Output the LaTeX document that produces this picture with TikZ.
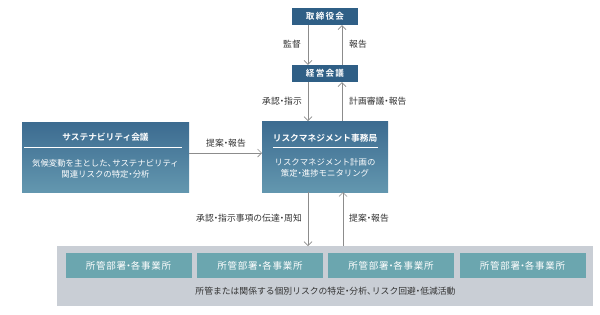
\documentclass[tikz,border=0pt]{standalone}
\usepackage{fontspec}
\setmainfont{Noto Sans CJK JP}[BoldFont={Noto Sans CJK JP Bold}]
\usetikzlibrary{arrows.meta}
\newcommand\nd{\makebox[0.5em]{・}}
\newcommand\nc{\makebox[0.55em][l]{、}}
\definecolor{navy}{HTML}{2F5F86}
\definecolor{btop}{HTML}{3C6B90}
\definecolor{bbot}{HTML}{6397AF}
\definecolor{panel}{HTML}{C9CED5}
\definecolor{tealbox}{HTML}{6BA6AF}
\definecolor{arr}{HTML}{8C8C8C}
\definecolor{txt}{HTML}{333333}
\begin{document}
\begin{tikzpicture}[x=1pt,y=-1pt,
  topbox/.style={fill=navy,text=white,font=\fontsize{8.6}{9}\selectfont\bfseries\addfontfeature{LetterSpace=14},minimum width=66pt,minimum height=17pt,inner sep=0pt},
  gradbox/.style={top color=btop,bottom color=bbot,draw=none},
  unitbox/.style={fill=tealbox,text=white,font=\fontsize{9.5}{10}\selectfont\addfontfeature{LetterSpace=8},minimum width=126pt,minimum height=25pt,inner sep=0pt},
  lbl/.style={text=txt,font=\fontsize{8.8}{9}\selectfont,inner sep=1pt},
  wt/.style={text=white,font=\fontsize{8.4}{11}\selectfont,align=center,inner sep=0pt},
  wtitle/.style={text=white,font=\fontsize{8.7}{9}\selectfont\bfseries,inner sep=0pt},
  conn/.style={draw=arr,line width=0.8pt,-{Straight Barb[length=4pt,width=8pt,line width=0.7pt]}}
]
\useasboundingbox (0,0) rectangle (600,314);
\fill[white] (0,0) rectangle (600,314);
% top boxes
\node[topbox] (board) at (325,16.5) {取締役会};
\node[topbox] (mgmt) at (325,73.5) {経営会議};
% sustainability box
\path[gradbox] (22,122) rectangle (189,192);
\node[wtitle] (sust) at (105.5,137) {サステナビリティ会議};
\draw[white,line width=0.6pt] (24,147) -- (182,147);
\node[wt] (susd) at (105.5,168.5) {気候変動を主とした\nc サステナビリティ\\関連リスクの特定\nd 分析};
% risk office box
\path[gradbox] (262,121) rectangle (388,192);
\node[wtitle] (rmt) at (325,138) {リスクマネジメント事務局};
\draw[white,line width=0.6pt] (273,147) -- (378,147);
\node[wt] (rmd) at (325,168) {リスクマネジメント計画の\\策定\nd 進捗モニタリング};
\coordinate (rmtop) at (325,121);
\coordinate (rmbot) at (325,192);
% panel
\fill[panel] (57,246) rectangle (593,306);
\coordinate (pantop) at (325,246);
\node[unitbox] (u1) at (128.5,265.5) {所管部署\nd 各事業所};
\node[unitbox] (u2) at (260,265.5) {所管部署\nd 各事業所};
\node[unitbox] (u3) at (391,265.5) {所管部署\nd 各事業所};
\node[unitbox] (u4) at (522.5,265.5) {所管部署\nd 各事業所};
\node[lbl] (pantxt) at (325.5,291) {所管または関係する個別リスクの特定\nd 分析\nc リスク回避\nd 低減活動};
% connectors
\draw[conn] (board.south -| 308,0) -- (mgmt.north -| 308,0);
\draw[conn] (mgmt.north -| 342,0) -- (board.south -| 342,0);
\node[lbl] (l1) at (292,44) {監督};
\node[lbl] (l2) at (358,44) {報告};
\draw[conn] (mgmt.south -| 308,0) -- (rmtop -| 308,0);
\draw[conn] (rmtop -| 342,0) -- (mgmt.south -| 342,0);
\node[lbl,anchor=east] (l3) at (303,101) {承認\nd 指示};
\node[lbl,anchor=west] (l4) at (348,101) {計画審議\nd 報告};
\draw[conn] (189,153) -- (262,153);
\node[lbl] (l5) at (226,143) {提案\nd 報告};
\draw[conn] (rmbot -| 308,0) -- (pantop -| 308,0);
\draw[conn] (pantop -| 343,0) -- (rmbot -| 343,0);
\node[lbl,anchor=east] (l6) at (303,218) {承認\nd 指示事項の伝達\nd 周知};
\node[lbl,anchor=west] (l7) at (348,218) {提案\nd 報告};
\end{tikzpicture}
\end{document}
